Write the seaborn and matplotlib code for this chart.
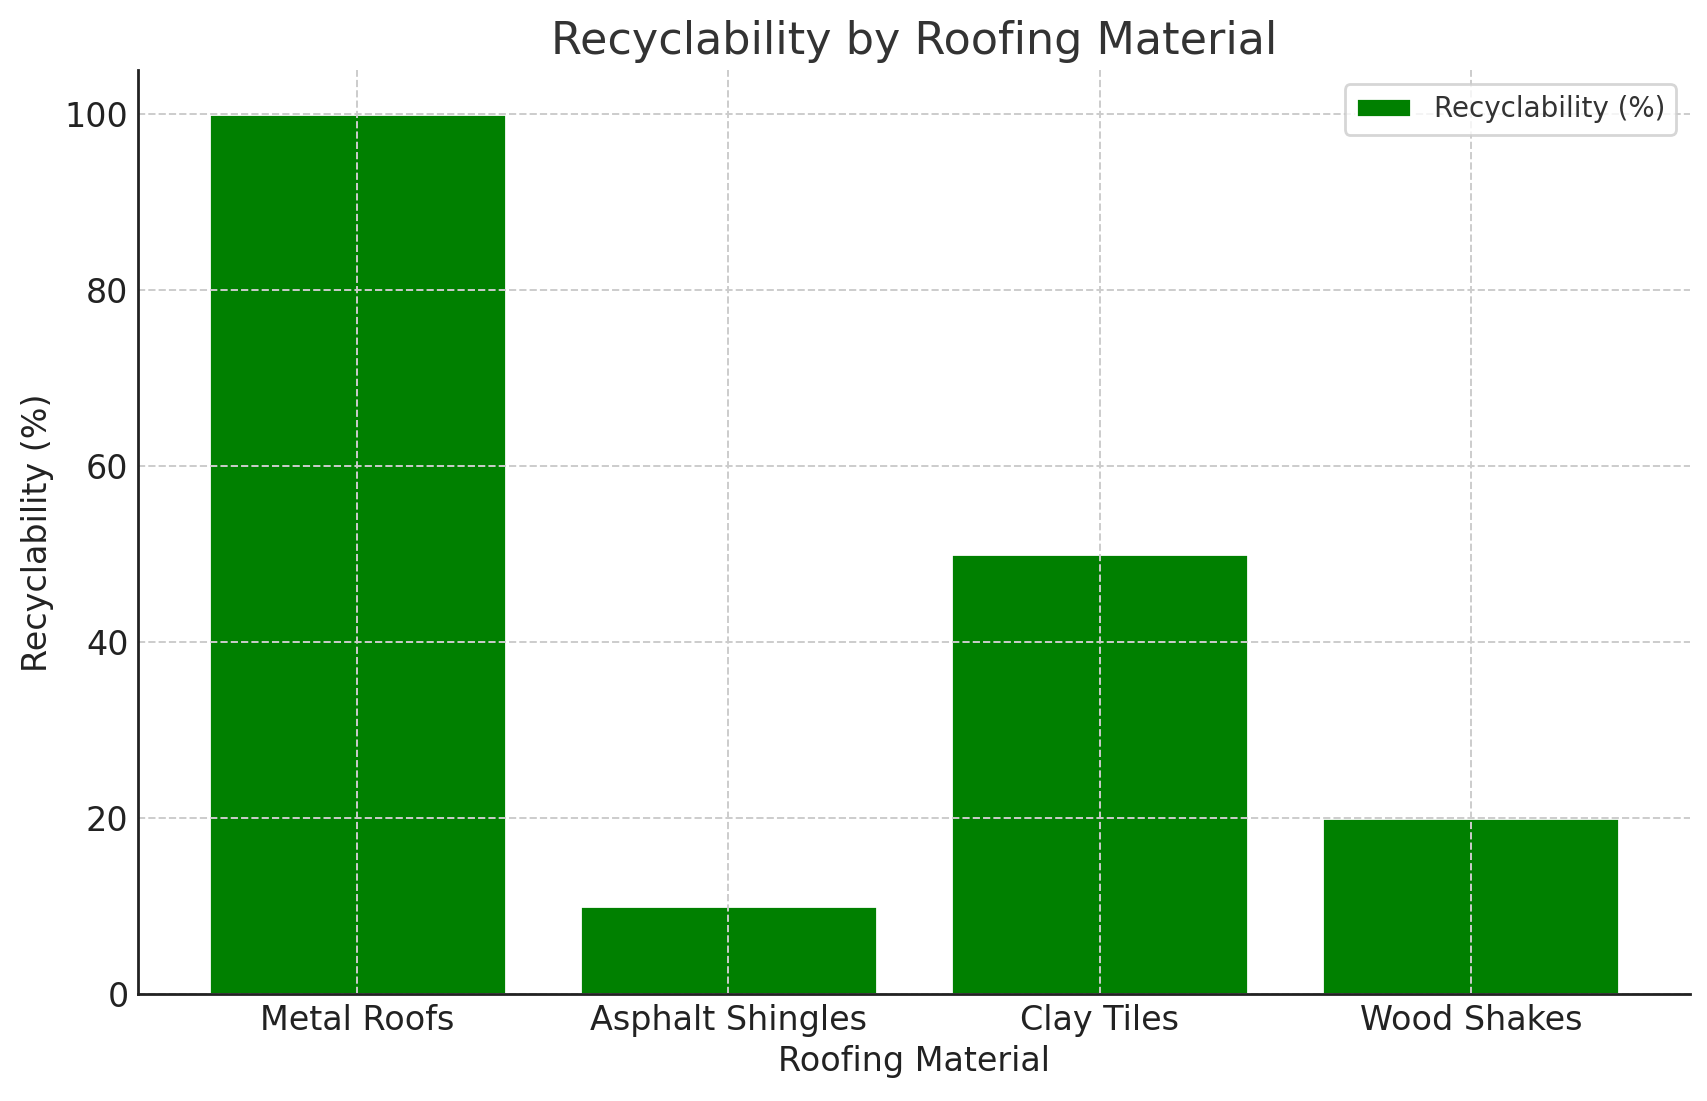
import matplotlib
matplotlib.use('Agg')
import matplotlib.pyplot as plt
import seaborn as sb
import pandas as pd

materials = ['Metal Roofs', 'Asphalt Shingles', 'Clay Tiles', 'Wood Shakes']
recyclability = [100, 10, 50, 20]

df = pd.DataFrame({'Roofing Material': materials, 'Recyclability (%)': recyclability})

sb.set_style('whitegrid', {'grid.linestyle': '--', 'grid.color': '#cccccc',
                           'axes.edgecolor': '#222222', 'text.color': '#333333'})
plt.rcParams['font.family'] = ['DejaVu Sans']

fig, ax = plt.subplots(figsize=(8.535, 5.505), dpi=200)
fig.subplots_adjust(left=0.081, right=0.990, top=0.936, bottom=0.097)

sb.barplot(data=df, x='Roofing Material', y='Recyclability (%)', color='#008000',
           saturation=1, width=0.8, label='Recyclability (%)', ax=ax)

ax.set_xlim(-0.59, 3.59)
ax.set_ylim(0, 105)
ax.set_yticks([0, 20, 40, 60, 80, 100])
ax.grid(True, linestyle='--', color='#cccccc', linewidth=0.7)
ax.set_axisbelow(False)
for p in ax.patches:
    p.set_zorder(1)
ax.spines['top'].set_visible(False)
ax.spines['right'].set_visible(False)
for side in ['left', 'bottom']:
    ax.spines[side].set_linewidth(1.0)
    ax.spines[side].set_zorder(5)
ax.tick_params(axis='both', labelsize=12, length=3, width=1.0, direction='in',
               color='#222222', labelcolor='#222222')

ax.set_title('Recyclability by Roofing Material', fontsize=16, color='#333333')
ax.set_xlabel('Roofing Material', fontsize=12, color='#222222', labelpad=3)
ax.set_ylabel('Recyclability (%)', fontsize=12, color='#222222')
ax.legend(loc='upper right', fontsize=10, labelcolor='#333333')

fig.savefig('out.png', dpi=200)
